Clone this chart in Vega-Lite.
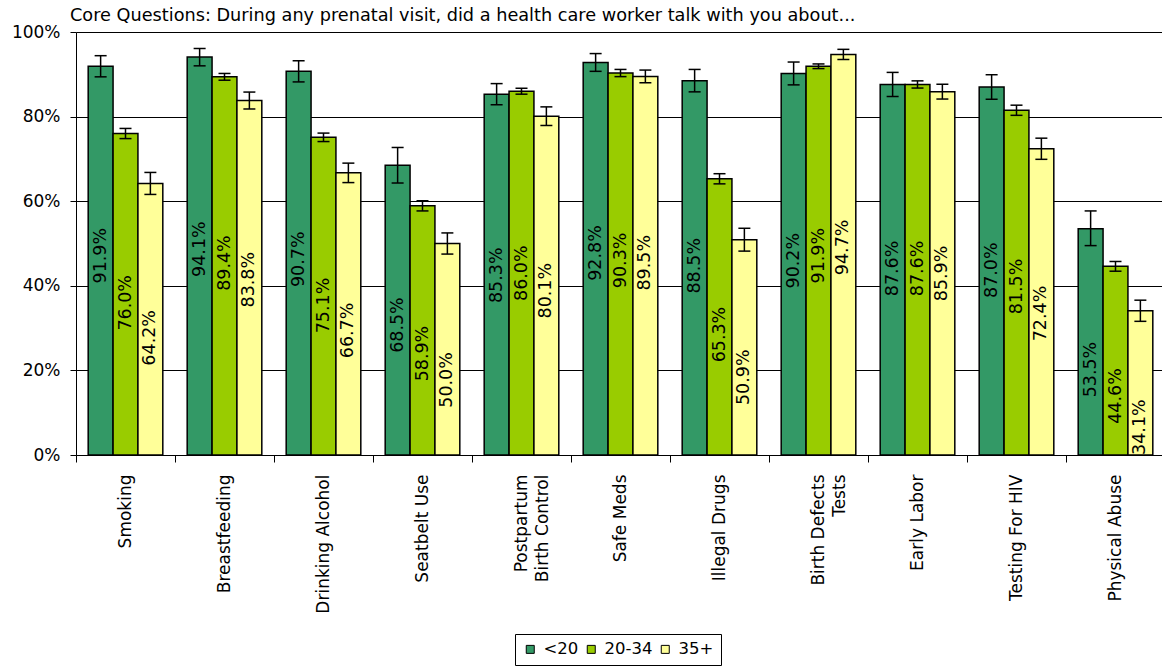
{
  "$schema": "https://vega.github.io/schema/vega-lite/v6.json",
  "width": 1089,
  "height": 423,
  "autosize": "none",
  "padding": {"left": 76, "top": 32, "right": 0, "bottom": 215},
  "background": "white",
  "config": {"font": "DejaVu Sans", "view": {"stroke": null}},
  "title": {"text": "Core Questions: During any prenatal visit, did a health care worker talk with you about...", "anchor": "start", "frame": "group", "dx": -6, "dy": 12, "offset": 10, "fontSize": 17.7, "fontWeight": "normal", "color": "black", "font": "DejaVu Sans"},
  "data": {"values": [
    {"topic": "Smoking", "age": "<20", "pct": 0.919, "lo": 0.894, "hi": 0.944},
    {"topic": "Smoking", "age": "20-34", "pct": 0.760, "lo": 0.748, "hi": 0.772},
    {"topic": "Smoking", "age": "35+", "pct": 0.642, "lo": 0.616, "hi": 0.668},
    {"topic": "Breastfeeding", "age": "<20", "pct": 0.941, "lo": 0.920, "hi": 0.961},
    {"topic": "Breastfeeding", "age": "20-34", "pct": 0.894, "lo": 0.886, "hi": 0.902},
    {"topic": "Breastfeeding", "age": "35+", "pct": 0.838, "lo": 0.818, "hi": 0.858},
    {"topic": "Drinking Alcohol", "age": "<20", "pct": 0.907, "lo": 0.882, "hi": 0.932},
    {"topic": "Drinking Alcohol", "age": "20-34", "pct": 0.751, "lo": 0.741, "hi": 0.761},
    {"topic": "Drinking Alcohol", "age": "35+", "pct": 0.667, "lo": 0.644, "hi": 0.690},
    {"topic": "Seatbelt Use", "age": "<20", "pct": 0.685, "lo": 0.643, "hi": 0.727},
    {"topic": "Seatbelt Use", "age": "20-34", "pct": 0.589, "lo": 0.577, "hi": 0.601},
    {"topic": "Seatbelt Use", "age": "35+", "pct": 0.500, "lo": 0.475, "hi": 0.525},
    {"topic": "Postpartum Birth Control", "age": "<20", "pct": 0.853, "lo": 0.828, "hi": 0.878},
    {"topic": "Postpartum Birth Control", "age": "20-34", "pct": 0.860, "lo": 0.853, "hi": 0.867},
    {"topic": "Postpartum Birth Control", "age": "35+", "pct": 0.801, "lo": 0.779, "hi": 0.823},
    {"topic": "Safe Meds", "age": "<20", "pct": 0.928, "lo": 0.907, "hi": 0.949},
    {"topic": "Safe Meds", "age": "20-34", "pct": 0.903, "lo": 0.8945, "hi": 0.9115},
    {"topic": "Safe Meds", "age": "35+", "pct": 0.895, "lo": 0.880, "hi": 0.910},
    {"topic": "Illegal Drugs", "age": "<20", "pct": 0.885, "lo": 0.8585, "hi": 0.9115},
    {"topic": "Illegal Drugs", "age": "20-34", "pct": 0.653, "lo": 0.641, "hi": 0.665},
    {"topic": "Illegal Drugs", "age": "35+", "pct": 0.509, "lo": 0.482, "hi": 0.536},
    {"topic": "Birth Defects Tests", "age": "<20", "pct": 0.902, "lo": 0.875, "hi": 0.929},
    {"topic": "Birth Defects Tests", "age": "20-34", "pct": 0.919, "lo": 0.9135, "hi": 0.9245},
    {"topic": "Birth Defects Tests", "age": "35+", "pct": 0.947, "lo": 0.935, "hi": 0.959},
    {"topic": "Early Labor", "age": "<20", "pct": 0.876, "lo": 0.8475, "hi": 0.9045},
    {"topic": "Early Labor", "age": "20-34", "pct": 0.876, "lo": 0.8675, "hi": 0.8845},
    {"topic": "Early Labor", "age": "35+", "pct": 0.859, "lo": 0.8415, "hi": 0.8765},
    {"topic": "Testing For HIV", "age": "<20", "pct": 0.870, "lo": 0.841, "hi": 0.899},
    {"topic": "Testing For HIV", "age": "20-34", "pct": 0.815, "lo": 0.803, "hi": 0.827},
    {"topic": "Testing For HIV", "age": "35+", "pct": 0.724, "lo": 0.699, "hi": 0.749},
    {"topic": "Physical Abuse", "age": "<20", "pct": 0.535, "lo": 0.495, "hi": 0.577},
    {"topic": "Physical Abuse", "age": "20-34", "pct": 0.446, "lo": 0.4345, "hi": 0.4575},
    {"topic": "Physical Abuse", "age": "35+", "pct": 0.341, "lo": 0.316, "hi": 0.366}
  ]},
  "encoding": {
    "x": {
      "field": "topic", "type": "nominal", "sort": null,
      "scale": {"paddingInner": 0, "paddingOuter": 0},
      "axis": {
        "title": null, "labelAngle": -90, "labelFontSize": 17, "labelColor": "black",
        "tickBand": "extent", "tickSize": 7, "tickColor": "black", "tickWidth": 1,
        "domainColor": "black", "domainWidth": 1, "labelPadding": 12, "labelLineHeight": 21,
        "labelExpr": "datum.value == 'Postpartum Birth Control' ? ['Postpartum', 'Birth Control'] : datum.value == 'Birth Defects Tests' ? ['Birth Defects', 'Tests'] : datum.value"
      }
    },
    "xOffset": {"field": "age", "type": "nominal", "sort": ["<20", "20-34", "35+"], "scale": {"paddingInner": 0, "paddingOuter": 0.49}}
  },
  "layer": [
    {
      "mark": {"type": "bar", "stroke": "black", "strokeWidth": 1.5},
      "encoding": {
        "y": {"field": "pct", "type": "quantitative", "scale": {"domain": [0, 1]},
          "axis": {"title": null, "format": "%", "values": [0, 0.2, 0.4, 0.6, 0.8, 1], "grid": true, "gridColor": "black", "gridOpacity": 1, "gridWidth": 1, "domainColor": "black", "tickColor": "black", "tickSize": 6, "labelFontSize": 17, "labelPadding": 10, "labelColor": "black"}},
        "color": {"field": "age", "type": "nominal", "sort": ["<20", "20-34", "35+"],
          "scale": {"domain": ["<20", "20-34", "35+"], "range": ["#339966", "#99CC00", "#FFFF99"]},
          "legend": {"title": null, "orient": "none", "legendX": 439, "legendY": 602, "direction": "horizontal", "strokeColor": "black", "padding": 7, "symbolType": "square", "symbolSize": 64, "symbolStrokeColor": "black", "symbolStrokeWidth": 1, "symbolOpacity": 1, "labelFontSize": 16.5, "labelColor": "black", "columnPadding": 4, "labelOffset": 5}}
      }
    },
    {
      "mark": {"type": "rule", "strokeWidth": 1.5, "color": "black"},
      "encoding": {"y": {"field": "lo", "type": "quantitative", "scale": {"domain": [0, 1]}, "axis": null}, "y2": {"field": "hi"}}
    },
    {
      "mark": {"type": "tick", "orient": "horizontal", "size": 12, "thickness": 1.5, "color": "black", "opacity": 1},
      "encoding": {"y": {"field": "lo", "type": "quantitative", "scale": {"domain": [0, 1]}, "axis": null}}
    },
    {
      "mark": {"type": "tick", "orient": "horizontal", "size": 12, "thickness": 1.5, "color": "black", "opacity": 1},
      "encoding": {"y": {"field": "hi", "type": "quantitative", "scale": {"domain": [0, 1]}, "axis": null}}
    },
    {
      "mark": {"type": "text", "angle": 270, "fontSize": 17.5, "color": "black"},
      "encoding": {
        "y": {"field": "pct", "type": "quantitative", "scale": {"domain": [0.247, 1.673], "zero": false}, "axis": null},
        "text": {"field": "pct", "type": "quantitative", "format": ".1%"}
      }
    }
  ],
  "resolve": {"scale": {"y": "independent"}}
}
